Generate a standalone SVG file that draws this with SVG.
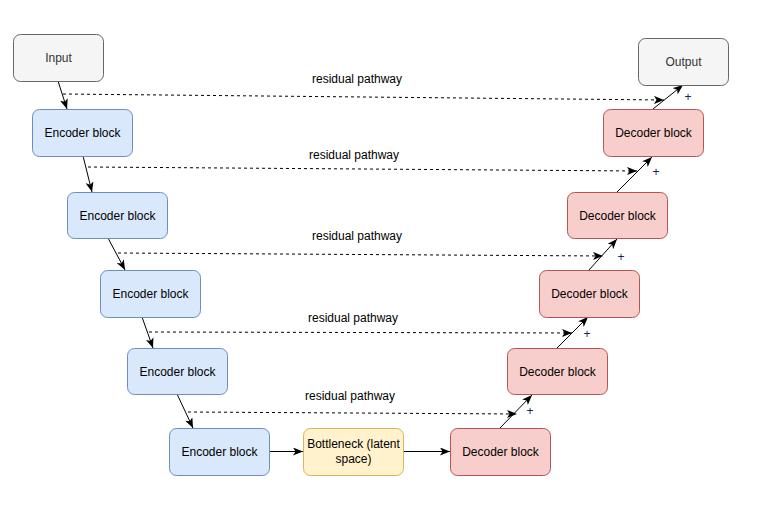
<svg xmlns="http://www.w3.org/2000/svg" width="758" height="530" viewBox="0 0 758 530">
  <style>
    .node rect { stroke-width: 1; }
    .io rect { fill: #f5f5f5; stroke: #666666; }
    .enc rect { fill: #dae8fc; stroke: #6c8ebf; }
    .dec rect { fill: #f8cecc; stroke: #b85450; }
    .bot rect { fill: #fff2cc; stroke: #d6b656; }
    text { font-family: "Liberation Sans", Arial, Helvetica, sans-serif; font-size: 12px; text-anchor: middle; fill: #000000; }
    .io text { fill: #333333; }
    .edge { stroke: #000000; stroke-width: 1; fill: none; marker-end: url(#arrow); }
    .skip { stroke-dasharray: 3 3; }
    .plus { fill: #13275a; font-size: 12px; }
    .label { fill: #000000; }
  </style>
  <defs>
    <marker id="arrow" viewBox="0 0 10 8" refX="10" refY="4" markerWidth="10" markerHeight="8" markerUnits="userSpaceOnUse" orient="auto">
      <path d="M0,0 L10,4 L0,8 L2.5,4 z" fill="#000000"/>
    </marker>
  </defs>

  <rect width="758" height="530" fill="#ffffff"/>

  <!-- connectors -->
  <g id="edges">
    <!-- encoder path -->
    <line class="edge" x1="58" y1="81" x2="67" y2="109"/>
    <line class="edge" x1="83" y1="156" x2="92" y2="192"/>
    <line class="edge" x1="108" y1="238" x2="125" y2="270"/>
    <line class="edge" x1="142" y1="317" x2="153" y2="348"/>
    <line class="edge" x1="177" y1="394" x2="193" y2="428"/>
    <!-- bottleneck -->
    <line class="edge" x1="269" y1="451.5" x2="303" y2="451.5"/>
    <line class="edge" x1="403" y1="451.5" x2="450" y2="451.5"/>
    <!-- decoder path -->
    <line class="edge" x1="500" y1="428" x2="532" y2="395"/>
    <line class="edge" x1="557" y1="348" x2="588" y2="317"/>
    <line class="edge" x1="589" y1="270" x2="617" y2="239"/>
    <line class="edge" x1="617" y1="192" x2="652" y2="157"/>
    <line class="edge" x1="653" y1="109" x2="683" y2="85"/>
    <!-- residual pathways -->
    <line class="edge skip" x1="63" y1="94" x2="664" y2="100"/>
    <line class="edge skip" x1="88" y1="167" x2="637" y2="171"/>
    <line class="edge skip" x1="118" y1="253" x2="603" y2="256"/>
    <line class="edge skip" x1="149" y1="332" x2="572" y2="333"/>
    <line class="edge skip" x1="188" y1="412" x2="517" y2="414"/>
    <!-- labels -->
    <text class="label" x="357" y="83">residual pathway</text>
    <text class="label" x="354" y="159">residual pathway</text>
    <text class="label" x="357" y="240">residual pathway</text>
    <text class="label" x="353" y="322">residual pathway</text>
    <text class="label" x="350" y="400">residual pathway</text>
    <text class="plus" x="688" y="101">+</text>
    <text class="plus" x="656" y="176">+</text>
    <text class="plus" x="621" y="261">+</text>
    <text class="plus" x="587" y="338">+</text>
    <text class="plus" x="530" y="415">+</text>
  </g>

  <!-- nodes -->
  <g id="input" class="node io">
    <rect x="13.5" y="34.5" width="90" height="47" rx="7"/>
    <text x="58.5" y="62">Input</text>
  </g>
  <g id="output" class="node io">
    <rect x="638.5" y="38.5" width="90" height="47" rx="7"/>
    <text x="683.5" y="66">Output</text>
  </g>

  <g id="encoder1" class="node enc">
    <rect x="32.5" y="109.5" width="100" height="47" rx="7"/>
    <text x="82.5" y="137">Encoder block</text>
  </g>
  <g id="encoder2" class="node enc">
    <rect x="67.5" y="192.5" width="100" height="46" rx="7"/>
    <text x="117.5" y="219.5">Encoder block</text>
  </g>
  <g id="encoder3" class="node enc">
    <rect x="100.5" y="270.5" width="100" height="47" rx="7"/>
    <text x="150.5" y="298">Encoder block</text>
  </g>
  <g id="encoder4" class="node enc">
    <rect x="127.5" y="348.5" width="100" height="46" rx="7"/>
    <text x="177.5" y="376">Encoder block</text>
  </g>
  <g id="encoder5" class="node enc">
    <rect x="169.5" y="428.5" width="100" height="47" rx="7"/>
    <text x="219.5" y="456">Encoder block</text>
  </g>

  <g id="bottleneck" class="node bot">
    <rect x="303.5" y="428.5" width="100" height="47" rx="7"/>
    <text x="353.5" y="448">Bottleneck (latent</text>
    <text x="353.5" y="463">space)</text>
  </g>

  <g id="decoder5" class="node dec">
    <rect x="450.5" y="428.5" width="100" height="47" rx="7"/>
    <text x="500.5" y="456">Decoder block</text>
  </g>
  <g id="decoder4" class="node dec">
    <rect x="507.5" y="348.5" width="100" height="46" rx="7"/>
    <text x="557.5" y="376">Decoder block</text>
  </g>
  <g id="decoder3" class="node dec">
    <rect x="539.5" y="270.5" width="100" height="47" rx="7"/>
    <text x="589.5" y="298">Decoder block</text>
  </g>
  <g id="decoder2" class="node dec">
    <rect x="567.5" y="192.5" width="100" height="46" rx="7"/>
    <text x="617.5" y="219.5">Decoder block</text>
  </g>
  <g id="decoder1" class="node dec">
    <rect x="603.5" y="109.5" width="100" height="47" rx="7"/>
    <text x="653.5" y="137">Decoder block</text>
  </g>
</svg>
